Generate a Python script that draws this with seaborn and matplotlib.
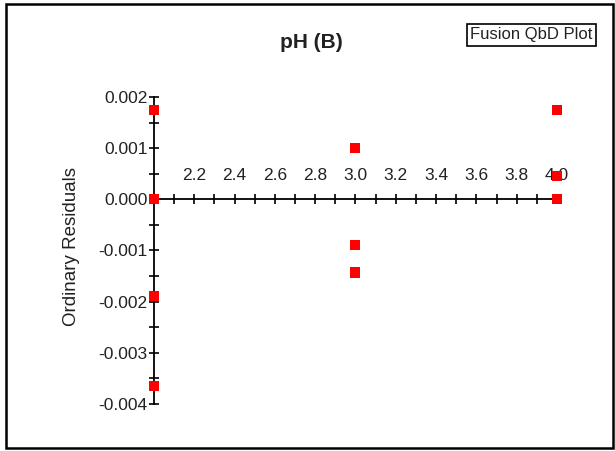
import matplotlib
matplotlib.use("Agg")
import matplotlib.pyplot as plt
import seaborn as sns
import pandas as pd
from matplotlib.ticker import MultipleLocator, FormatStrFormatter
from matplotlib.patches import Rectangle

ph = [2.0, 2.0, 2.0, 2.0, 3.0, 3.0, 3.0, 4.0, 4.0, 4.0]
residuals = [0.00175, 0.0, -0.00189, -0.00365, 0.00101, -0.00090, -0.00143, 0.00175, 0.00045, 0.0]

title = "pH (B)"
ylabel = "Ordinary Residuals"
badge = "Fusion QbD Plot"

sns.set_theme(style="white")
plt.rcParams['font.family'] = ['Liberation Sans', 'DejaVu Sans']

df = pd.DataFrame({"pH": ph, "res": residuals})

fig = plt.figure(figsize=(6.15, 4.51), dpi=100)
W, H = 615, 451
x0, x1 = 154, 561
y0, y1 = 97, 404
ax = fig.add_axes([x0 / W, 1 - y1 / H, (x1 - x0) / W, (y1 - y0) / H])

sns.scatterplot(data=df, x="pH", y="res", ax=ax, marker="s", s=52,
                color="#ff0000", edgecolor="none", clip_on=False, zorder=5, legend=False)

ax.set_xlim(2.0, 4.02)
ax.set_ylim(-0.004, 0.002)

for s in ["right", "bottom"]:
    ax.spines[s].set_visible(False)
ax.spines["top"].set_position(("data", 0))
ax.spines["left"].set_position(("data", 2.0))
for s in ["top", "left"]:
    ax.spines[s].set_color("black")
    ax.spines[s].set_linewidth(1.3)
    ax.spines[s].set_zorder(3)

ax.xaxis.set_ticks_position("top")
ax.xaxis.set_major_locator(MultipleLocator(0.2))
ax.xaxis.set_minor_locator(MultipleLocator(0.1))
ax.xaxis.set_major_formatter(FormatStrFormatter("%.1f"))
ax.set_xticks([2.2, 2.4, 2.6, 2.8, 3.0, 3.2, 3.4, 3.6, 3.8, 4.0])
ax.yaxis.set_major_locator(MultipleLocator(0.001))
ax.yaxis.set_minor_locator(MultipleLocator(0.0005))
ax.yaxis.set_major_formatter(FormatStrFormatter("%.3f"))

ax.tick_params(axis="x", which="both", direction="inout", length=7, width=1.2,
               color="black", top=True, bottom=False, labeltop=True, labelbottom=False,
               pad=8, labelsize=12.5, labelcolor="#222222")
ax.tick_params(axis="y", which="both", direction="inout", length=7, width=1.2,
               color="black", left=True, pad=1, labelsize=12.5, labelcolor="#222222")
ax.tick_params(axis="x", which="minor", labeltop=False)

ax.set_xlabel("")
ax.set_ylabel("")
fig.text(72 / W, 1 - 246 / H, ylabel, rotation=90, ha="center", va="center",
         fontsize=13.5, color="#222222")
fig.text(311 / W, 1 - 43 / H, title, ha="center", va="center", fontsize=15,
         fontweight="bold", color="#222222")
fig.text(531.5 / W, 1 - 35 / H, badge, ha="center", va="center", fontsize=12,
         color="#222222",
         bbox=dict(boxstyle="square,pad=0.2", facecolor="white", edgecolor="black", linewidth=1.2))

fig.patches.append(Rectangle((6 / W, 3 / H), (613 - 6) / W, (448 - 4) / H,
                             transform=fig.transFigure, fill=False,
                             edgecolor="black", linewidth=1.8))

fig.savefig("out.png", dpi=100)
